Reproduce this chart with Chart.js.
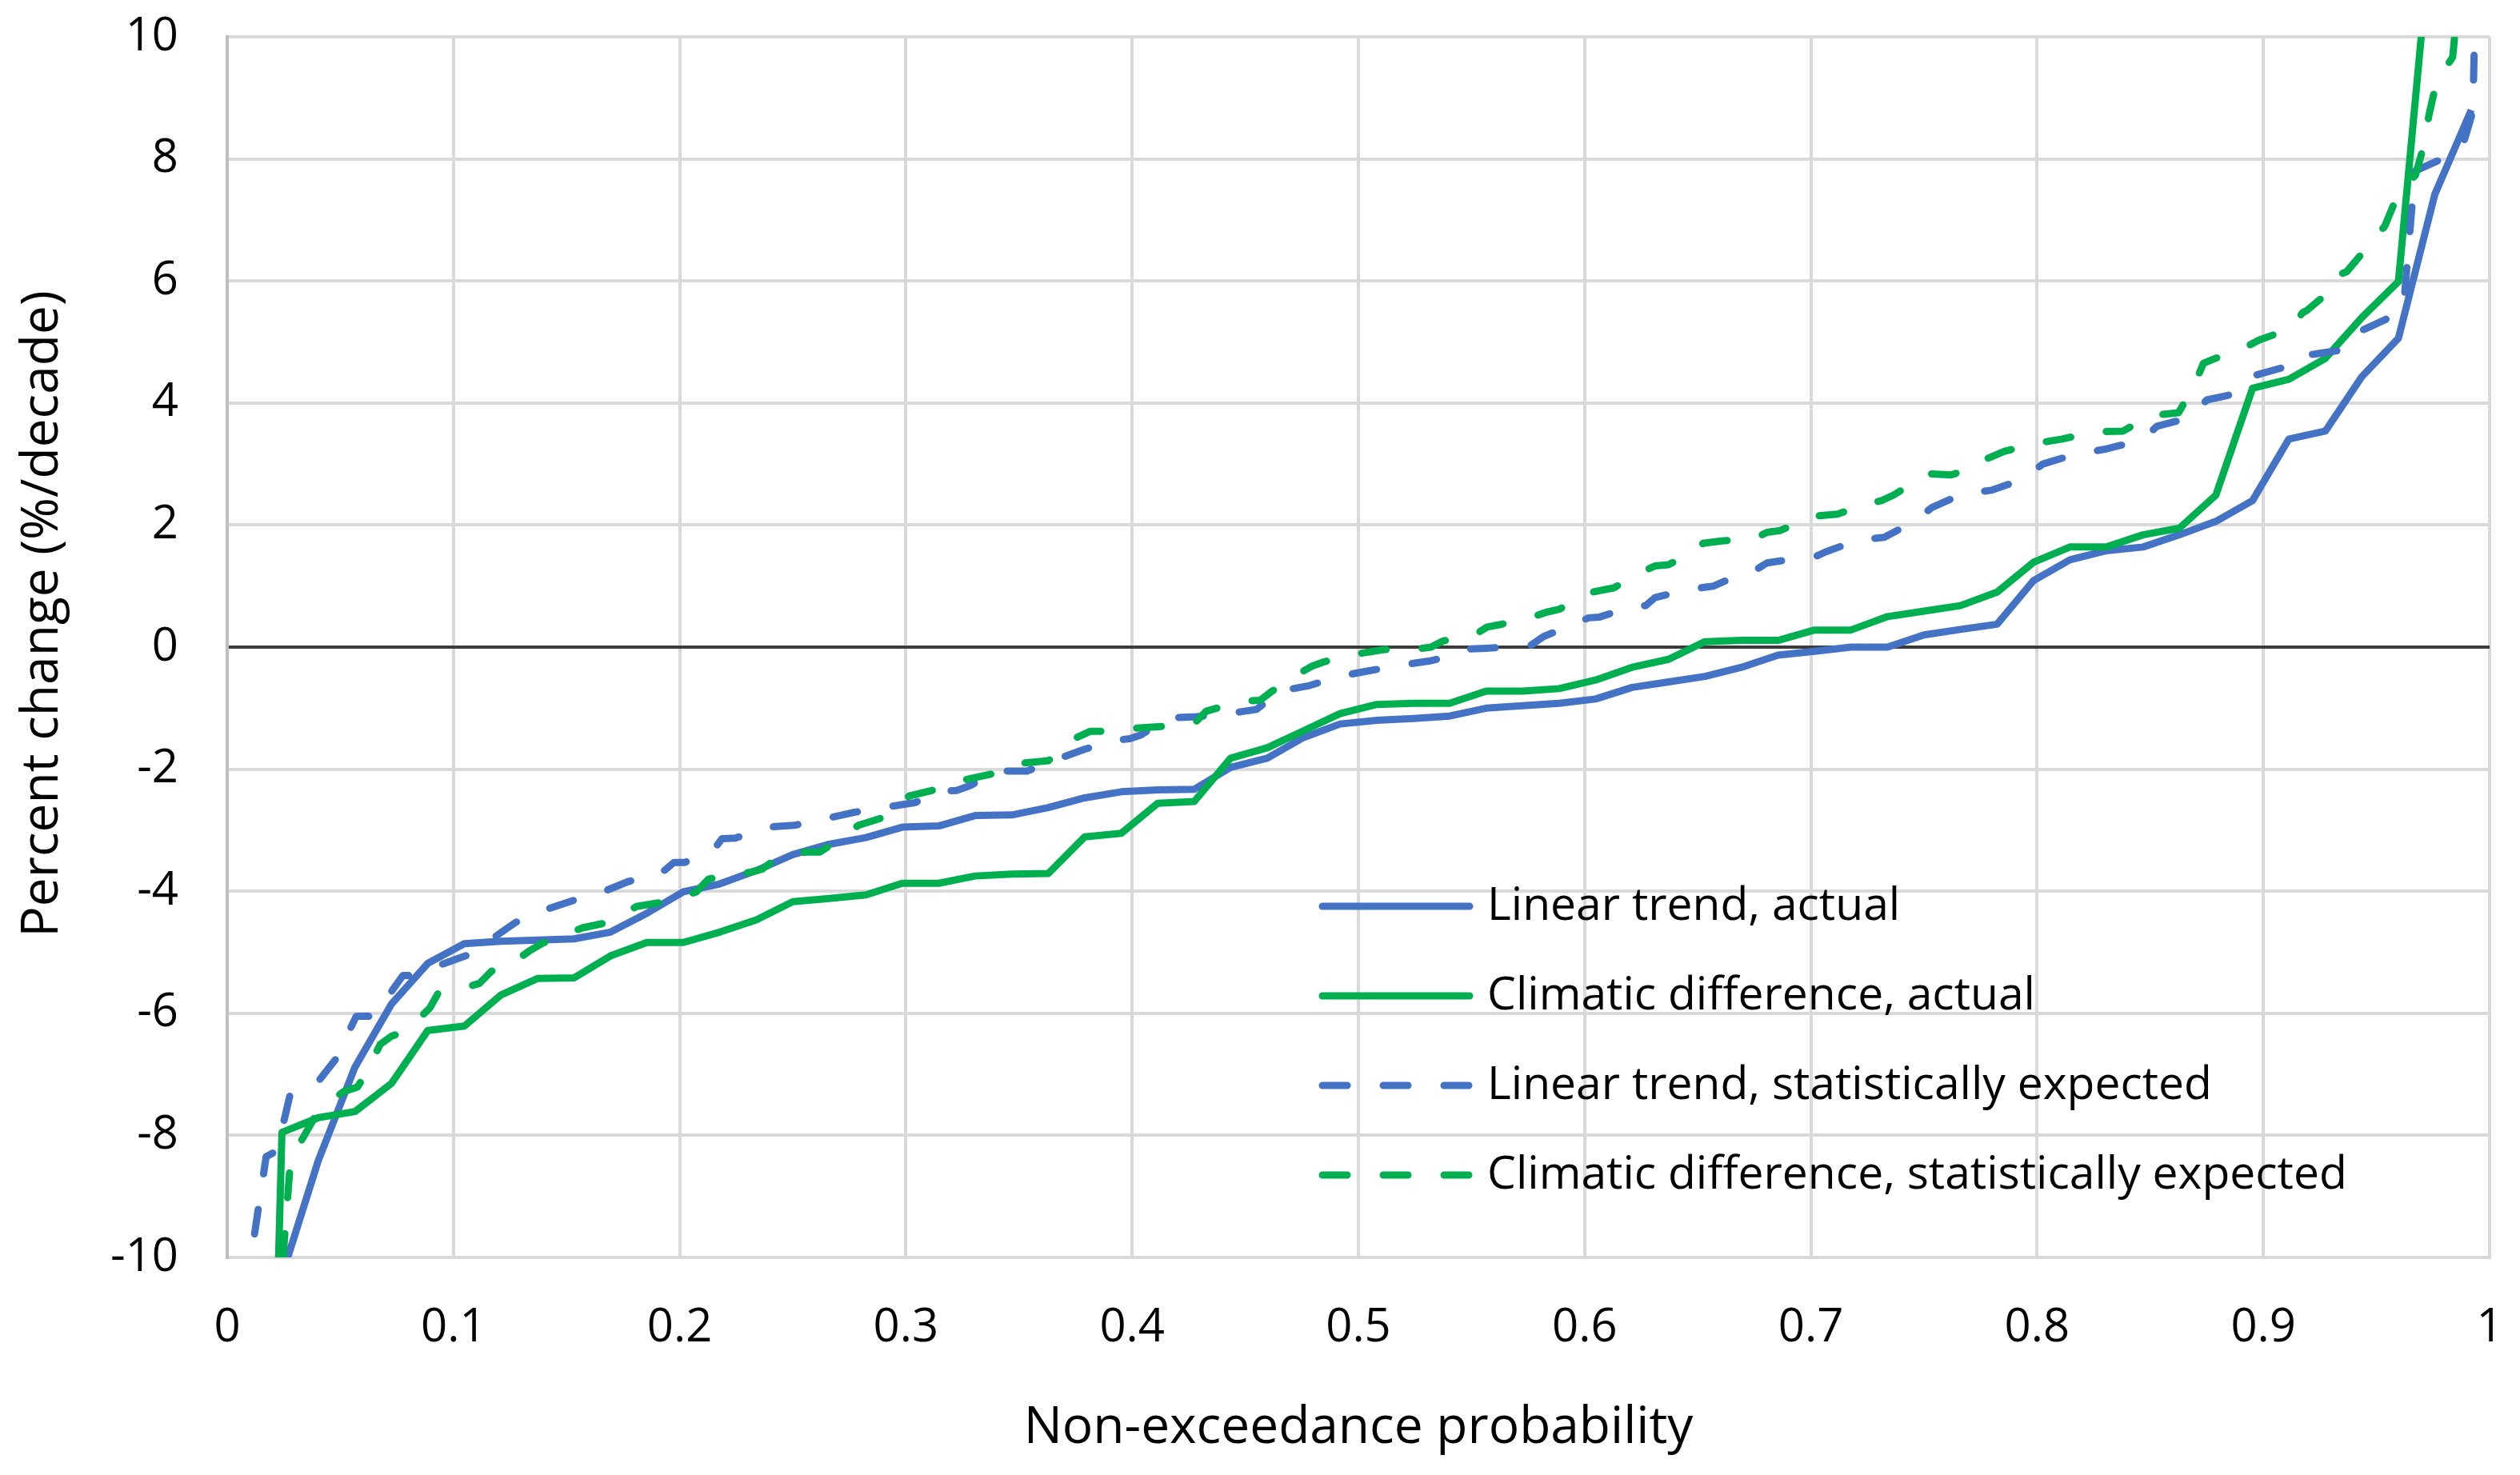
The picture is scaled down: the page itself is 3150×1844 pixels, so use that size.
<!DOCTYPE html>
<html>
<head>
<meta charset="utf-8">
<script src="https://cdn.jsdelivr.net/npm/chart.js@4.4.1/dist/chart.umd.min.js"></script>
<style>
  html, body { margin: 0; padding: 0; background: #fff; }
  #wrap { width: 3150px; height: 1844px; }
</style>
</head>
<body>
<div id="wrap"><canvas id="percentChart" width="3150" height="1844"></canvas></div>
<script>
// non-exceedance probability of each ranked value (actual series)
const probActual = [
  0.0081, 0.0242, 0.0403, 0.0565, 0.0726, 0.0887, 0.1048, 0.121, 0.1371, 0.1532,
  0.1694, 0.1855, 0.2016, 0.2177, 0.2339, 0.25, 0.2661, 0.2823, 0.2984, 0.3145,
  0.3306, 0.3468, 0.3629, 0.379, 0.3952, 0.4113, 0.4274, 0.4435, 0.4597, 0.4758,
  0.4919, 0.5081, 0.5242, 0.5403, 0.5565, 0.5726, 0.5887, 0.6048, 0.621, 0.6371,
  0.6532, 0.6694, 0.6855, 0.7016, 0.7177, 0.7339, 0.75, 0.7661, 0.7823, 0.7984,
  0.8145, 0.8306, 0.8468, 0.8629, 0.879, 0.8952, 0.9113, 0.9274, 0.9435, 0.9597,
  0.9758, 0.9919
];

const linearActual = [
  -16, -10.3, -8.41, -6.88, -5.85, -5.18, -4.86, -4.82, -4.8, -4.78,
  -4.67, -4.36, -4.01, -3.88, -3.66, -3.4, -3.23, -3.12, -2.95, -2.93,
  -2.76, -2.75, -2.63, -2.47, -2.37, -2.34, -2.33, -1.97, -1.82, -1.48,
  -1.26, -1.2, -1.17, -1.13, -1.0, -0.96, -0.92, -0.85, -0.66, -0.57,
  -0.48, -0.33, -0.13, -0.07, 0.0, 0.0, 0.2, 0.29, 0.375, 1.09,
  1.43, 1.58, 1.64, 1.84, 2.06, 2.4, 3.41, 3.54, 4.43, 5.06,
  7.42, 8.8
];

const climaticActual = [
  -30, -7.95, -7.71, -7.61, -7.15, -6.28, -6.21, -5.7, -5.43, -5.42,
  -5.06, -4.84, -4.84, -4.67, -4.47, -4.17, -4.12, -4.06, -3.87, -3.87,
  -3.75, -3.72, -3.71, -3.11, -3.05, -2.56, -2.53, -1.82, -1.65, -1.37,
  -1.09, -0.94, -0.92, -0.92, -0.72, -0.72, -0.68, -0.54, -0.33, -0.2,
  0.09, 0.11, 0.11, 0.28, 0.28, 0.5, 0.59, 0.68, 0.9, 1.39,
  1.64, 1.64, 1.84, 1.95, 2.49, 4.24, 4.39, 4.73, 5.4, 5.99,
  12.4, 16
];

// statistically expected curves (own probability positions)
const probLinearExpected = [
  0.0081, 0.0172, 0.022, 0.028, 0.041, 0.048, 0.057, 0.0647, 0.0777, 0.0813,
  0.094, 0.106, 0.117, 0.1275, 0.14, 0.153, 0.166, 0.1773, 0.191, 0.1974,
  0.2021, 0.215, 0.2187, 0.2246, 0.2388, 0.2506, 0.2648, 0.2766, 0.2914, 0.3038,
  0.3153, 0.3224, 0.3283, 0.34, 0.3537, 0.3666, 0.3784, 0.392, 0.399, 0.4038,
  0.416, 0.4285, 0.4427, 0.455, 0.4654, 0.4784, 0.4914, 0.5044, 0.518, 0.531,
  0.5439, 0.5486, 0.5563, 0.5758, 0.5817, 0.5947, 0.6018, 0.6064, 0.6205, 0.627,
  0.6311, 0.6452, 0.657, 0.67, 0.6759, 0.6806, 0.6953, 0.7018, 0.7065, 0.7206,
  0.7324, 0.7453, 0.7536, 0.767, 0.7797, 0.7932, 0.8025, 0.816, 0.8296, 0.843,
  0.848, 0.853, 0.8667, 0.875, 0.8887, 0.897, 0.9115, 0.917, 0.9225, 0.9368,
  0.9436, 0.957, 0.962, 0.967, 0.979, 0.988, 0.9926, 0.9945
];
const linearExpected = [
  -10.6, -8.35, -8.25, -7.3, -7.08, -6.75, -6.05, -6.05, -5.38, -5.38,
  -5.21, -5.05, -4.78, -4.51, -4.31, -4.15, -4.01, -3.84, -3.73, -3.53,
  -3.53, -3.32, -3.14, -3.13, -2.95, -2.92, -2.81, -2.71, -2.62, -2.55,
  -2.36, -2.35, -2.27, -2.03, -2.03, -1.84, -1.68, -1.53, -1.5, -1.44,
  -1.16, -1.14, -1.09, -1.02, -0.72, -0.63, -0.48, -0.39, -0.3, -0.23,
  -0.12, -0.03, -0.02, 0.02, 0.17, 0.37, 0.48, 0.49, 0.66, 0.68,
  0.81, 0.94, 1.0, 1.21, 1.27, 1.38, 1.46, 1.48, 1.56, 1.75,
  1.8, 2.05, 2.29, 2.51, 2.57, 2.74, 3.0, 3.15, 3.24, 3.36,
  3.45, 3.62, 3.75, 4.05, 4.16, 4.46, 4.61, 4.79, 4.8, 4.88,
  5.19, 5.42, 5.59, 7.8, 8.0, 8.2, 8.78, 12
];

const probClimaticExpected = [
  0.0205, 0.028, 0.041, 0.0516, 0.0575, 0.061, 0.0676, 0.0724, 0.0795, 0.0896,
  0.0931, 0.0985, 0.1115, 0.1168, 0.1222, 0.1335, 0.1394, 0.1447, 0.157, 0.1684,
  0.1809, 0.1939, 0.2074, 0.2128, 0.2169, 0.2311, 0.2364, 0.2411, 0.2553, 0.2618,
  0.2665, 0.279, 0.2902, 0.3014, 0.3124, 0.3265, 0.3377, 0.3519, 0.363, 0.375,
  0.3814, 0.386, 0.401, 0.4132, 0.428, 0.4327, 0.4374, 0.4515, 0.4566, 0.4619,
  0.4749, 0.4796, 0.4849, 0.4996, 0.5115, 0.5262, 0.5321, 0.5374, 0.5522, 0.5569,
  0.5628, 0.5776, 0.5829, 0.5888, 0.6018, 0.6128, 0.6258, 0.6311, 0.637, 0.6499,
  0.6523, 0.6605, 0.6753, 0.6806, 0.6865, 0.7, 0.7118, 0.7253, 0.7312, 0.7365,
  0.7495, 0.7524, 0.762, 0.7755, 0.778, 0.7856, 0.8, 0.811, 0.8262, 0.838,
  0.8498, 0.8625, 0.8693, 0.8735, 0.8861, 0.892, 0.898, 0.9115, 0.9174, 0.919,
  0.93, 0.9326, 0.9368, 0.9461, 0.9537, 0.9596, 0.9672, 0.9715, 0.9731, 0.9765,
  0.9837, 0.992
];
const climaticExpected = [
  -12, -8.4, -7.55, -7.28, -7.21, -7.01, -6.51, -6.38, -6.28, -5.91,
  -5.68, -5.65, -5.51, -5.31, -5.28, -4.98, -4.85, -4.78, -4.6, -4.51,
  -4.25, -4.17, -4.01, -3.8, -3.77, -3.69, -3.64, -3.51, -3.36, -3.36,
  -3.25, -2.92, -2.79, -2.44, -2.34, -2.17, -2.08, -1.9, -1.86, -1.49,
  -1.38, -1.38, -1.33, -1.3, -1.23, -1.05, -1.0, -0.88, -0.87, -0.72,
  -0.41, -0.31, -0.24, -0.11, -0.04, -0.03, 0.0, 0.1, 0.22, 0.33,
  0.37, 0.5, 0.57, 0.62, 0.89, 0.97, 1.24, 1.33, 1.35, 1.59,
  1.7, 1.74, 1.78, 1.88, 1.91, 2.14, 2.18, 2.35, 2.4, 2.49,
  2.79, 2.84, 2.82, 3.0, 3.09, 3.21, 3.34, 3.41, 3.53, 3.54,
  3.79, 3.84, 4.28, 4.65, 4.84, 4.91, 5.03, 5.21, 5.48, 5.51,
  5.85, 6.09, 6.15, 6.56, 6.9, 7.43, 7.73, 8.29, 8.7, 9.26,
  9.67, 13
];

const seriesNames = [
  'Linear trend, actual',
  'Climatic difference, actual',
  'Linear trend, statistically expected',
  'Climatic difference, statistically expected'
];

const BLUE = '#4472C4';
const GREEN = '#00B050';
const FONT = '"Open Sans", sans-serif';

function pts(xs, ys) {
  return xs.map((x, i) => ({ x: x, y: ys[i] }));
}

// legend sits inside the plot, below the curves
const insideLegend = {
  id: 'insideLegend',
  afterDatasetsDraw(chart) {
    const ctx = chart.ctx;
    ctx.save();
    chart.data.datasets.forEach((ds, i) => {
      const y = 1133 + i * 112;
      ctx.beginPath();
      ctx.lineWidth = ds.borderWidth;
      ctx.strokeStyle = ds.borderColor;
      ctx.lineCap = 'round';
      ctx.setLineDash(ds.borderDash || []);
      ctx.moveTo(1653, y);
      ctx.lineTo(1837, y);
      ctx.stroke();
      ctx.setLineDash([]);
      ctx.fillStyle = '#000';
      ctx.font = '57px ' + FONT;
      ctx.textBaseline = 'middle';
      ctx.textAlign = 'left';
      ctx.fillText(ds.label, 1859, y + 1);
    });
    ctx.restore();
  }
};

Chart.defaults.font.family = FONT;
Chart.defaults.font.size = 58;
Chart.defaults.color = '#000';

new Chart(document.getElementById('percentChart'), {
  type: 'line',
  data: {
    datasets: [
      {
        label: seriesNames[0],
        data: pts(probActual, linearActual),
        borderColor: BLUE, borderWidth: 9, order: 4
      },
      {
        label: seriesNames[1],
        data: pts(probActual, climaticActual),
        borderColor: GREEN, borderWidth: 9, order: 3
      },
      {
        label: seriesNames[2],
        data: pts(probLinearExpected, linearExpected),
        borderColor: BLUE, borderWidth: 9, borderDash: [31, 45], borderCapStyle: 'round', order: 2
      },
      {
        label: seriesNames[3],
        data: pts(probClimaticExpected, climaticExpected),
        borderColor: GREEN, borderWidth: 9, borderDash: [31, 45], borderCapStyle: 'round', order: 1
      }
    ]
  },
  options: {
    responsive: false,
    devicePixelRatio: 1,
    animation: false,
    events: [],
    layout: { padding: { top: 46, right: 38, bottom: 0, left: 0 } },
    datasets: {
      line: { pointRadius: 0, pointHoverRadius: 0, tension: 0, fill: false, clip: 0, borderJoinStyle: 'round' }
    },
    plugins: {
      legend: { display: false },
      tooltip: { enabled: false }
    },
    scales: {
      x: {
        type: 'linear',
        min: 0,
        max: 1,
        afterFit(scale) {
          scale.height = 272;
          scale.paddingLeft = 0;
          scale.paddingRight = 0;
        },
        grid: { color: '#d9d9d9', lineWidth: 4, drawTicks: false },
        border: { color: '#d9d9d9', width: 4 },
        ticks: {
          stepSize: 0.1,
          padding: 54,
          maxRotation: 0,
          callback: (v) => String(+v.toFixed(1))
        },
        title: {
          display: true,
          text: 'Non-exceedance probability',
          font: { size: 64 },
          padding: { top: 0, bottom: 20 }
        }
      },
      y: {
        min: -10,
        max: 10,
        afterFit(scale) {
          scale.width = 284;
          scale.paddingTop = 0;
          scale.paddingBottom = 0;
        },
        grid: {
          lineWidth: 4,
          drawTicks: false,
          color: (c) => (c.tick && c.tick.value === 0 ? '#3b3b3b' : '#d9d9d9')
        },
        border: { color: '#bfbfbf', width: 4 },
        ticks: { stepSize: 2, padding: 61 },
        title: {
          display: true,
          text: '\u00a0\u00a0\u00a0\u00a0\u00a0Percent change (%/decade)',
          font: { size: 64 },
          padding: { top: 15, bottom: 0 }
        }
      }
    }
  },
  plugins: [insideLegend]
});
</script>
</body>
</html>
